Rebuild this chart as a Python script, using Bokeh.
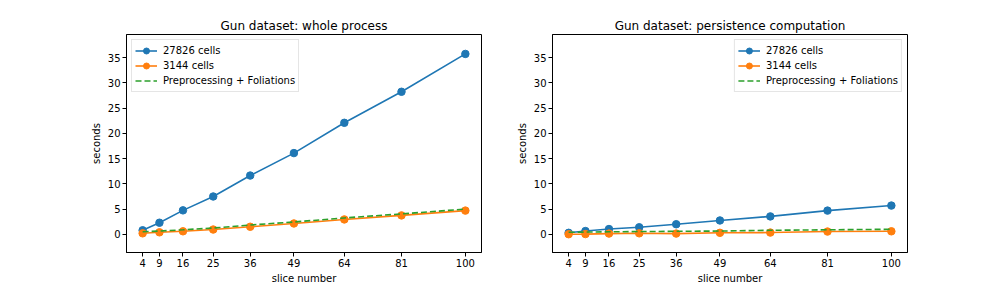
from bokeh.plotting import figure
from bokeh.layouts import row
from bokeh.models import FixedTicker, Legend, LegendItem, Range1d
from bokeh.embed import file_html
from bokeh.resources import INLINE

slices = [4, 9, 16, 25, 36, 49, 64, 81, 100]

whole_27826 = [0.8, 2.3, 4.75, 7.5, 11.65, 16.1, 22.1, 28.25, 35.75]
whole_3144 = [0.2, 0.4, 0.6, 0.95, 1.5, 2.15, 2.95, 3.75, 4.7]
whole_prep = [0.5, 0.65, 0.9, 1.25, 1.85, 2.45, 3.25, 4.05, 5.0]

pers_27826 = [0.3, 0.65, 1.05, 1.4, 2.0, 2.75, 3.55, 4.7, 5.7]
pers_3144 = [0.02, 0.05, 0.15, 0.2, 0.15, 0.3, 0.35, 0.55, 0.6]
pers_prep = [0.4, 0.45, 0.5, 0.55, 0.6, 0.65, 0.8, 0.9, 1.0]

y_ticks = [0, 5, 10, 15, 20, 25, 30, 35]
titles = ["Gun dataset: whole process", "Gun dataset: persistence computation"]
series_labels = ["27826 cells", "3144 cells", "Preprocessing + Foliations"]
x_label = "slice number"
y_label = "seconds"

BLUE = "#1f77b4"
ORANGE = "#ff7f0e"
GREEN = "#2ca02c"
FONT = "DejaVu Sans"


def make(title, big, small, prep, left_border, right_border, loc):
    p = figure(frame_width=355, frame_height=218, output_backend="svg",
               toolbar_location=None,
               x_range=Range1d(-0.8, 104.8), y_range=Range1d(-3.6, 39.6),
               min_border_left=left_border, min_border_right=right_border,
               min_border_top=34, min_border_bottom=10)
    p.title.text = title
    p.title.align = "center"
    p.title.text_font = FONT
    p.title.text_font_size = "12px"
    p.title.text_font_style = "normal"
    p.title.text_color = "black"
    p.title.standoff = 3
    p.grid.visible = False
    p.outline_line_color = "black"
    p.outline_line_width = 1
    p.outline_line_alpha = 1
    p.background_fill_color = "white"
    p.border_fill_color = "white"

    p.xaxis.ticker = FixedTicker(ticks=slices)
    p.yaxis.ticker = FixedTicker(ticks=y_ticks)
    p.xaxis.axis_label = x_label
    p.yaxis.axis_label = y_label
    for ax in (p.xaxis[0], p.yaxis[0]):
        ax.axis_line_color = "black"
        ax.major_tick_line_color = "black"
        ax.major_tick_in = 0
        ax.major_tick_out = 4
        ax.minor_tick_line_color = None
        ax.major_label_text_font = FONT
        ax.major_label_text_font_size = "10px"
        ax.major_label_text_color = "black"
        ax.major_label_standoff = 2
        ax.axis_label_text_font = FONT
        ax.axis_label_text_font_size = "10px"
        ax.axis_label_text_font_style = "normal"
        ax.axis_label_text_color = "black"
        ax.axis_label_standoff = 3

    l1 = p.line(slices, big, line_color=BLUE, line_width=1.6)
    s1 = p.scatter(slices, big, size=7.5, fill_color=BLUE, line_color=BLUE)
    l2 = p.line(slices, small, line_color=ORANGE, line_width=1.6)
    s2 = p.scatter(slices, small, size=7.5, fill_color=ORANGE, line_color=ORANGE)
    l3 = p.line(slices, prep, line_color=GREEN, line_width=1.6, line_dash="6 3")

    legend = Legend(items=[
        LegendItem(label=series_labels[0], renderers=[l1, s1]),
        LegendItem(label=series_labels[1], renderers=[l2, s2]),
        LegendItem(label=series_labels[2], renderers=[l3]),
    ], location=loc)
    legend.margin = 5
    legend.padding = 3
    legend.spacing = 0
    legend.glyph_width = 22
    legend.glyph_height = 15
    legend.label_height = 15
    legend.label_standoff = 6
    legend.label_text_font = FONT
    legend.label_text_font_size = "10px"
    legend.label_text_color = "black"
    legend.border_line_color = "#cccccc"
    legend.border_line_width = 1
    legend.background_fill_color = "white"
    legend.background_fill_alpha = 0.8
    p.add_layout(legend, "center")
    return p


p1 = make(titles[0], whole_27826, whole_3144, whole_prep, 126, 20, "top_left")
p2 = make(titles[1], pers_27826, pers_3144, pers_prep, 51, 20, "top_right")

layout = row(p1, p2)
open("out.html", "w").write(file_html(layout, INLINE))
